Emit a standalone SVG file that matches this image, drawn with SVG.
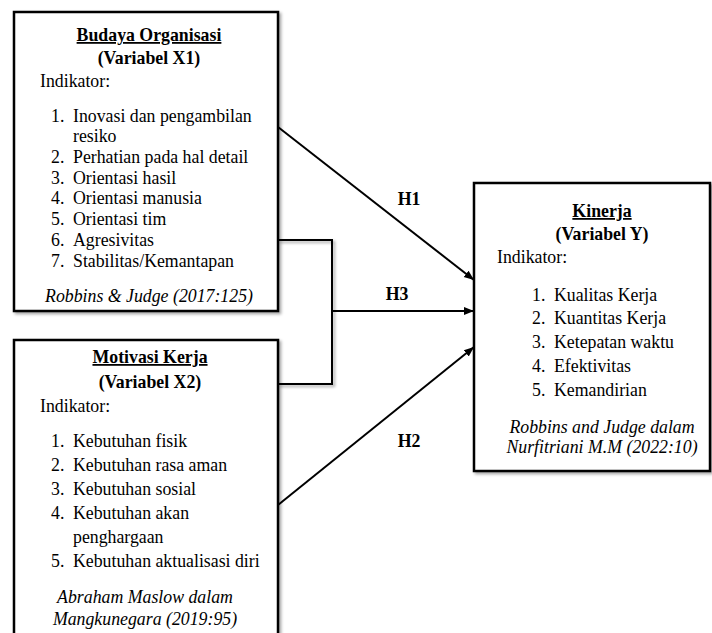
<svg xmlns="http://www.w3.org/2000/svg" width="712" height="633" viewBox="0 0 712 633">
<defs>
<filter id="sh" x="-10%" y="-10%" width="130%" height="130%">
<feDropShadow dx="2" dy="2" stdDeviation="1.5" flood-color="#000" flood-opacity="0.35"/>
</filter>
<marker id="ah" viewBox="0 0 10 10" refX="10" refY="5" markerWidth="10" markerHeight="10" markerUnits="userSpaceOnUse" orient="auto">
<path d="M0,1 L10,5 L0,9 z" fill="#000"/>
</marker>
</defs>
<style>
text{font-family:"Liberation Serif","Times New Roman",serif;font-size:17.8px;fill:#000}
.t{font-weight:bold;text-anchor:middle;text-decoration:underline}
.b{font-weight:bold;text-anchor:middle}
.c{font-style:italic;text-anchor:middle}
.box{fill:#fff;stroke:#000;stroke-width:2.5}
.ln{fill:none;stroke:#000;stroke-width:2}
</style>
<rect width="712" height="633" fill="#fff"/>
<g id="connectors">
<path class="ln" filter="url(#sh)" d="M278,240 H332 V384 H278"/>
<line class="ln" x1="278" y1="127" x2="474" y2="280" marker-end="url(#ah)"/>
<line class="ln" x1="332" y1="311" x2="474" y2="311" marker-end="url(#ah)"/>
<line class="ln" x1="278" y1="505" x2="474" y2="347" marker-end="url(#ah)"/>
<text class="b" x="409" y="205">H1</text>
<text class="b" x="397" y="300">H3</text>
<text class="b" x="409" y="447">H2</text>
</g>
<g id="x1">
<rect class="box" filter="url(#sh)" x="14" y="12" width="264" height="299"/>
<text class="t" x="149" y="41">Budaya Organisasi</text>
<text class="b" x="149" y="64">(Variabel X1)</text>
<text x="40" y="87">Indikator:</text>
<text x="51" y="122">1.</text><text x="73" y="122">Inovasi dan pengambilan</text>
<text x="73" y="142">resiko</text>
<text x="51" y="163">2.</text><text x="73" y="163">Perhatian pada hal detail</text>
<text x="51" y="184">3.</text><text x="73" y="184">Orientasi hasil</text>
<text x="51" y="204">4.</text><text x="73" y="204">Orientasi manusia</text>
<text x="51" y="225">5.</text><text x="73" y="225">Orientasi tim</text>
<text x="51" y="246">6.</text><text x="73" y="246">Agresivitas</text>
<text x="51" y="267">7.</text><text x="73" y="267">Stabilitas/Kemantapan</text>
<text class="c" x="149" y="302">Robbins &amp; Judge (2017:125)</text>
</g>
<g id="x2">
<rect class="box" filter="url(#sh)" x="14" y="340" width="264" height="310"/>
<text class="t" x="150" y="363">Motivasi Kerja</text>
<text class="b" x="150" y="388">(Variabel X2)</text>
<text x="40" y="412">Indikator:</text>
<text x="51" y="447">1.</text><text x="73" y="447">Kebutuhan fisik</text>
<text x="51" y="471">2.</text><text x="73" y="471">Kebutuhan rasa aman</text>
<text x="51" y="495">3.</text><text x="73" y="495">Kebutuhan sosial</text>
<text x="51" y="519">4.</text><text x="73" y="519">Kebutuhan akan</text>
<text x="73" y="543">penghargaan</text>
<text x="51" y="567">5.</text><text x="73" y="567">Kebutuhan aktualisasi diri</text>
<text class="c" x="145" y="603">Abraham Maslow dalam</text>
<text class="c" x="145" y="625">Mangkunegara (2019:95)</text>
</g>
<g id="y">
<rect class="box" filter="url(#sh)" x="474" y="183" width="236" height="288"/>
<text class="t" x="602" y="217">Kinerja</text>
<text class="b" x="602" y="240">(Variabel Y)</text>
<text x="497" y="263">Indikator:</text>
<text x="532" y="301">1.</text><text x="554" y="301">Kualitas Kerja</text>
<text x="532" y="324">2.</text><text x="554" y="324">Kuantitas Kerja</text>
<text x="532" y="348">3.</text><text x="554" y="348">Ketepatan waktu</text>
<text x="532" y="372">4.</text><text x="554" y="372">Efektivitas</text>
<text x="532" y="396">5.</text><text x="554" y="396">Kemandirian</text>
<text class="c" x="602" y="433">Robbins and Judge dalam</text>
<text class="c" x="602" y="453">Nurfitriani M.M (2022:10)</text>
</g>
</svg>
